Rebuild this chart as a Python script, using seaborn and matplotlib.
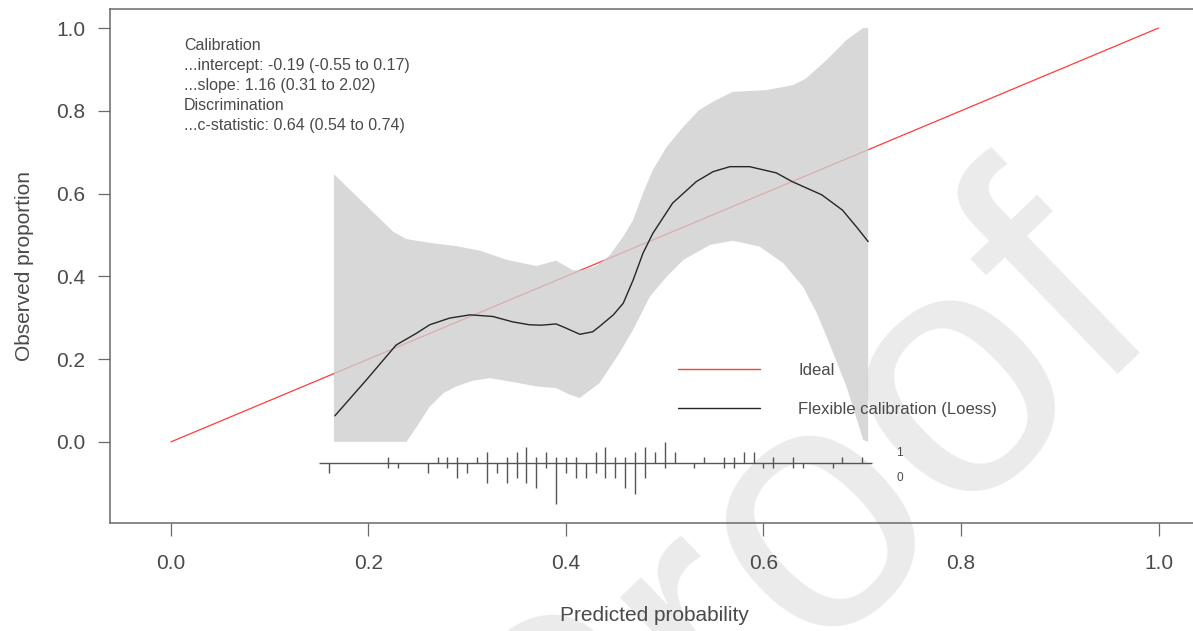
import numpy as np
import matplotlib
matplotlib.use("Agg")
import matplotlib.pyplot as plt
import seaborn as sns
from matplotlib.lines import Line2D

# ---------------- data ----------------
ideal_x = [0.0, 1.0]
ideal_y = [0.0, 1.0]

loess_x = [0.166, 0.198, 0.228, 0.249, 0.262, 0.282, 0.303, 0.326, 0.346, 0.363,
           0.375, 0.390, 0.400, 0.414, 0.427, 0.434, 0.448, 0.458, 0.468, 0.478,
           0.488, 0.508, 0.532, 0.549, 0.566, 0.586, 0.613, 0.629, 0.659, 0.680,
           0.694, 0.706]
loess_y = [0.063, 0.150, 0.234, 0.263, 0.283, 0.299, 0.307, 0.303, 0.290, 0.283,
           0.282, 0.285, 0.275, 0.260, 0.266, 0.279, 0.307, 0.335, 0.391, 0.456,
           0.504, 0.577, 0.629, 0.653, 0.665, 0.665, 0.650, 0.629, 0.597, 0.560,
           0.520, 0.484]

ci_upper_x = [0.165, 0.225, 0.2385, 0.262, 0.289, 0.313, 0.340, 0.370, 0.390, 0.407,
              0.417, 0.431, 0.444, 0.458, 0.468, 0.478, 0.488, 0.502, 0.519, 0.535,
              0.549, 0.569, 0.603, 0.630, 0.643, 0.664, 0.684, 0.701, 0.706]
ci_upper_y = [0.647, 0.508, 0.490, 0.481, 0.473, 0.462, 0.440, 0.425, 0.438, 0.415,
              0.415, 0.425, 0.450, 0.496, 0.536, 0.601, 0.657, 0.713, 0.762, 0.802,
              0.822, 0.846, 0.850, 0.862, 0.878, 0.923, 0.971, 1.000, 1.000]

ci_lower_x = [0.165, 0.2385, 0.249, 0.262, 0.276, 0.289, 0.306, 0.323, 0.350, 0.370,
              0.390, 0.404, 0.414, 0.434, 0.454, 0.468, 0.485, 0.502, 0.519, 0.546,
              0.569, 0.596, 0.620, 0.640, 0.654, 0.664, 0.684, 0.701, 0.706]
ci_lower_y = [0.000, 0.000, 0.037, 0.085, 0.118, 0.134, 0.148, 0.154, 0.143, 0.134,
              0.130, 0.114, 0.106, 0.142, 0.214, 0.271, 0.351, 0.399, 0.440, 0.476,
              0.486, 0.472, 0.432, 0.375, 0.311, 0.254, 0.134, 0.005, 0.000]

# spike histogram of predicted probabilities by outcome
bin_x = [0.16, 0.22, 0.23, 0.26, 0.27, 0.28, 0.29, 0.30, 0.31, 0.32,
         0.33, 0.34, 0.35, 0.36, 0.37, 0.38, 0.39, 0.40, 0.41, 0.42,
         0.43, 0.44, 0.45, 0.46, 0.47, 0.48, 0.49, 0.50, 0.51, 0.53,
         0.54, 0.56, 0.57, 0.58, 0.59, 0.60, 0.61, 0.63, 0.64, 0.67,
         0.68, 0.70]
count_1 = [0, 1, 0, 0, 1, 1, 1, 0, 1, 2,
           0, 1, 2, 3, 1, 2, 1, 1, 1, 0,
           2, 3, 1, 1, 2, 3, 2, 4, 2, 0,
           1, 1, 1, 2, 2, 0, 1, 1, 0, 0,
           1, 1]
count_0 = [2, 1, 1, 2, 0, 1, 3, 2, 0, 4,
           2, 4, 3, 4, 5, 1, 8, 2, 3, 3,
           2, 3, 3, 5, 6, 3, 0, 1, 0, 1,
           0, 1, 1, 0, 0, 1, 1, 1, 1, 1,
           0, 0]

x_ticks = [0.0, 0.2, 0.4, 0.6, 0.8, 1.0]
y_ticks = [0.0, 0.2, 0.4, 0.6, 0.8, 1.0]
stats_lines = ["Calibration",
               "...intercept: -0.19 (-0.55 to 0.17)",
               "...slope: 1.16 (0.31 to 2.02)",
               "Discrimination",
               "...c-statistic: 0.64 (0.54 to 0.74)"]
legend_labels = ["Ideal", "Flexible calibration (Loess)"]
x_label = "Predicted probability"
y_label = "Observed proportion"
watermark = "Proof"

# ---------------- style ----------------
sns.set_theme(style="white")
plt.rcParams["font.family"] = ["Liberation Sans", "DejaVu Sans"]

TXT = "#4a4a4a"
AXC = "#6a6a6a"
RED = "#ff3b3b"
BLK = "#262626"

W, H = 1193, 631
fig = plt.figure(figsize=(W / 100, H / 100), dpi=100)
fig.patch.set_facecolor("white")

# watermark behind everything
fig.text(857.4 / W, 1 - 597.9 / H, watermark, fontsize=252, rotation=44,
         rotation_mode="anchor", ha="center", va="baseline",
         color="#ebebeb", zorder=-5)

ax = fig.add_axes([110 / W, (H - 523) / H, (1199 - 110) / W, (523 - 9) / H])
ax.set_facecolor("none")

# ideal line (under the translucent band)
sns.lineplot(x=ideal_x, y=ideal_y, ax=ax, color=RED, lw=0.9, zorder=1,
             estimator=None, sort=False)

# confidence band
band_x = np.r_[ci_upper_x, ci_lower_x[::-1]]
band_y = np.r_[ci_upper_y, ci_lower_y[::-1]]
ax.fill(band_x, band_y, color="#cecece", alpha=0.78, lw=0, zorder=2)

# loess curve
sns.lineplot(x=loess_x, y=loess_y, ax=ax, color=BLK, lw=1.0, zorder=3,
             estimator=None, sort=False)

# spike histogram
line_bins = -0.05
bx = np.array(bin_x)
c1 = np.array(count_1)
c0 = np.array(count_0)
scale = 0.1 / max(c1.max(), c0.max())
ax.hlines(line_bins, bx.min() - 0.01, bx.max() + 0.01, color="#555555", lw=1.0, zorder=3)
m1 = c1 > 0
ax.vlines(bx[m1], line_bins, line_bins + c1[m1] * scale, color="#555555", lw=1.0, zorder=3)
m0 = c0 > 0
ax.vlines(bx[m0], line_bins - c0[m0] * scale, line_bins, color="#555555", lw=1.0, zorder=3)
ax.text(0.738, line_bins + 0.022, "1", fontsize=8.5, color=TXT, ha="center", va="center")
ax.text(0.738, line_bins - 0.037, "0", fontsize=8.5, color=TXT, ha="center", va="center")

# statistics text
ax.text(0.013, 0.976, "\n".join(stats_lines), fontsize=11.5, color=TXT,
        ha="left", va="top", linespacing=1.41)

# legend
handles = [Line2D([], [], color=RED, lw=1.0), Line2D([], [], color=BLK, lw=1.0)]
leg = ax.legend(handles, legend_labels, loc="upper left", bbox_to_anchor=(0.5216, 0.311),
                frameon=False, fontsize=12, handlelength=4.9, handletextpad=2.3,
                labelspacing=1.44, borderpad=0, borderaxespad=0, labelcolor=TXT)

# axes
ax.set_xlim(-0.0617, 1.041)
ax.set_ylim(-0.196, 1.046)
ax.set_xticks(x_ticks)
ax.set_xticklabels([f"{t:.1f}" for t in x_ticks])
ax.set_yticks(y_ticks)
ax.set_yticklabels([f"{t:.1f}" for t in y_ticks])
ax.tick_params(axis="both", which="major", bottom=True, left=True, top=False, right=False,
               direction="out", length=9, width=0.9, color=AXC,
               labelsize=15, labelcolor=TXT)
ax.tick_params(axis="x", pad=13.5)
ax.tick_params(axis="y", pad=9)
for s in ax.spines.values():
    s.set_color(AXC)
    s.set_linewidth(1.1)
ax.set_xlabel(x_label, fontsize=15, color=TXT, labelpad=23.5)
ax.set_ylabel(y_label, fontsize=15, color=TXT, labelpad=16)
ax.grid(False)

fig.savefig("out.png", dpi=100, facecolor="white")
